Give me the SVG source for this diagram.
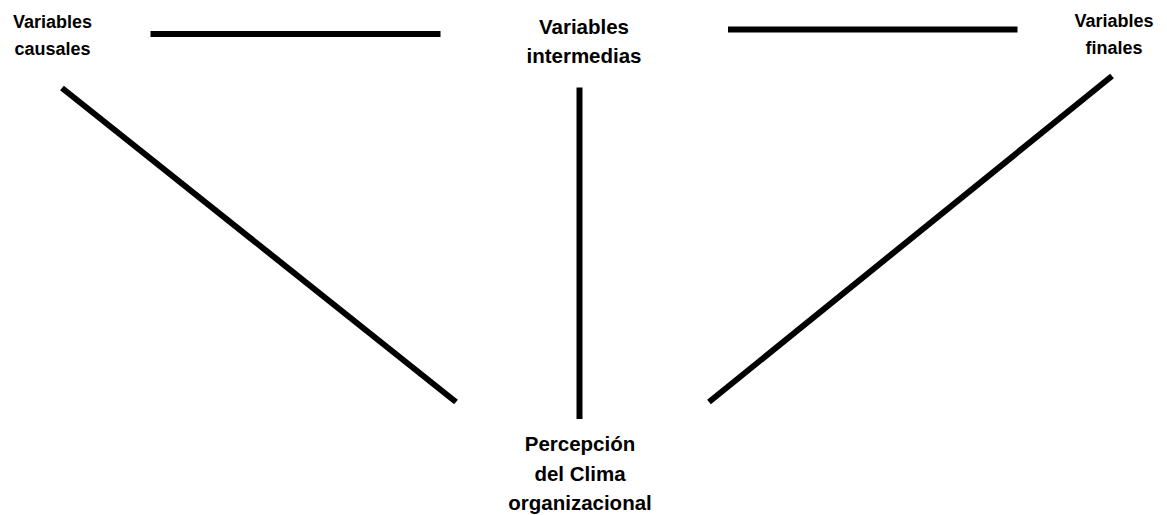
<svg xmlns="http://www.w3.org/2000/svg" width="1167" height="515" viewBox="0 0 1167 515">
<style>
.t{font-family:"Liberation Sans",Arial,sans-serif;font-weight:bold;fill:#000;text-anchor:middle}
.s{font-size:18px}
.m{font-size:20.5px}
.c line{stroke:#000;stroke-width:6}
</style>
<rect width="1167" height="515" fill="#fff"/>
<g class="c" id="connectors">
<line x1="150.5" y1="34" x2="440.5" y2="34"/>
<line x1="728" y1="29.5" x2="1017.5" y2="29.5"/>
<line x1="579.5" y1="87.5" x2="579.5" y2="419"/>
<line x1="62" y1="88" x2="456" y2="402"/>
<line x1="709" y1="402" x2="1112" y2="76"/>
</g>
<g id="causales"><text class="t s" x="52.5" y="28">Variables</text><text class="t s" x="52.5" y="55">causales</text></g>
<g id="intermedias"><text class="t m" x="584" y="34">Variables</text><text class="t m" x="584" y="63">intermedias</text></g>
<g id="finales"><text class="t s" x="1114" y="27">Variables</text><text class="t s" x="1114" y="54">finales</text></g>
<g id="percepcion"><text class="t m" x="580" y="451">Percepción</text><text class="t m" x="580" y="481">del Clima</text><text class="t m" x="580" y="510">organizacional</text></g>
</svg>
